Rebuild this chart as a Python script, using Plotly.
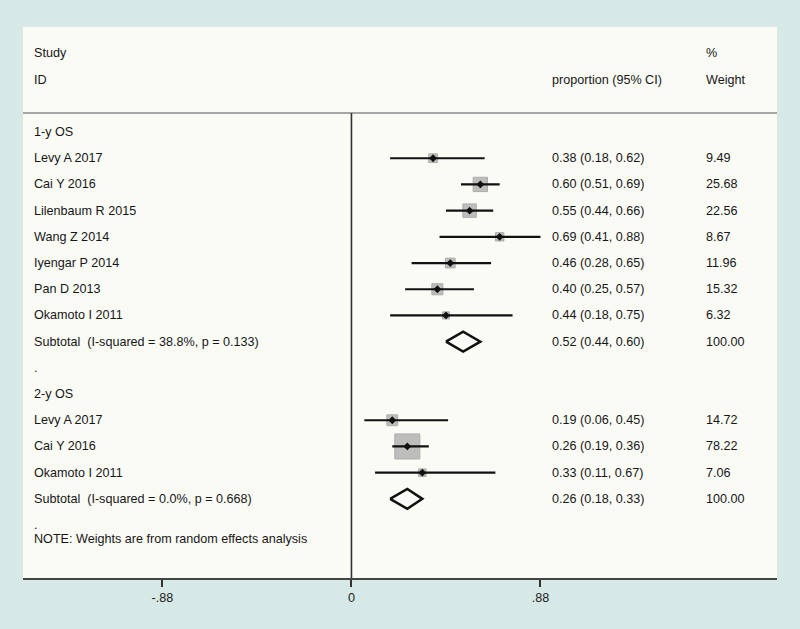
import plotly.graph_objects as go

# ---------------- data ----------------
group_labels = ["1-y OS", "2-y OS"]

studies_1y = ["Levy A 2017", "Cai Y 2016", "Lilenbaum R 2015", "Wang Z 2014",
              "Iyengar P 2014", "Pan D 2013", "Okamoto I 2011"]
es_1y = [0.38, 0.60, 0.55, 0.69, 0.46, 0.40, 0.44]
lo_1y = [0.18, 0.51, 0.44, 0.41, 0.28, 0.25, 0.18]
hi_1y = [0.62, 0.69, 0.66, 0.88, 0.65, 0.57, 0.75]
w_1y = [9.49, 25.68, 22.56, 8.67, 11.96, 15.32, 6.32]
sub_1y = [0.52, 0.44, 0.60]
het_1y = "Subtotal  (I-squared = 38.8%, p = 0.133)"

studies_2y = ["Levy A 2017", "Cai Y 2016", "Okamoto I 2011"]
es_2y = [0.19, 0.26, 0.33]
lo_2y = [0.06, 0.19, 0.11]
hi_2y = [0.45, 0.36, 0.67]
w_2y = [14.72, 78.22, 7.06]
sub_2y = [0.26, 0.18, 0.33]
het_2y = "Subtotal  (I-squared = 0.0%, p = 0.668)"

tick_vals = [-0.88, 0, 0.88]
tick_text = ["-.88", "0", ".88"]
note_text = "NOTE: Weights are from random effects analysis"

# ---------------- layout constants ----------------
FONT = dict(family="Liberation Sans, Arial, sans-serif", size=12.6, color="#161616")
X_LABEL = -1.487
X_CI = 0.924
X_W = 1.641
DIAMOND_H = 0.38

groups = [
    (group_labels[0], studies_1y, es_1y, lo_1y, hi_1y, w_1y, sub_1y, het_1y),
    (group_labels[1], studies_2y, es_2y, lo_2y, hi_2y, w_2y, sub_2y, het_2y),
]

sq_x, sq_y, sq_s = [], [], []
ln_x, ln_y = [], []
dot_x, dot_y = [], []
dm_x, dm_y = [], []
annotations = []


def txt(x, y, s):
    annotations.append(dict(x=x, y=y, xref="x", yref="y", text=s, showarrow=False,
                            xanchor="left", yanchor="middle", font=FONT))


txt(X_LABEL, -3, "Study")
txt(X_LABEL, -2, "ID")
txt(X_CI, -2, "proportion (95% CI)")
txt(X_W, -3, "%")
txt(X_W, -2, "Weight")

r = 0
for gi, (glabel, names, es, lo, hi, w, sub, het) in enumerate(groups):
    txt(X_LABEL, r, glabel)
    r += 1
    for n, e, l, h, ww in zip(names, es, lo, hi, w):
        txt(X_LABEL, r, n)
        txt(X_CI, r, f"{e:.2f} ({l:.2f}, {h:.2f})")
        txt(X_W, r, f"{ww:.2f}")
        sq_x.append(e); sq_y.append(r); sq_s.append(2.83 * ww ** 0.5)
        ln_x += [l, h, None]; ln_y += [r, r, None]
        dot_x.append(e); dot_y.append(r)
        r += 1
    txt(X_LABEL, r, het)
    txt(X_CI, r, f"{sub[0]:.2f} ({sub[1]:.2f}, {sub[2]:.2f})")
    txt(X_W, r, "100.00")
    e, l, h = sub
    dm_x += [l, e, h, e, l, None]
    dm_y += [r, r - DIAMOND_H, r, r + DIAMOND_H, r, None]
    r += 1
    txt(X_LABEL, r, ".")
    r += 1
txt(X_LABEL, r - 1 + 0.53, note_text)

fig = go.Figure()
fig.add_trace(go.Scatter(x=sq_x, y=sq_y, mode="markers",
                         marker=dict(symbol="square", size=sq_s, color="#a3a3a3",
                                     line=dict(color="#8c8c8c", width=1))))
fig.add_trace(go.Scatter(x=ln_x, y=ln_y, mode="lines",
                         line=dict(color="#111111", width=2.2)))
fig.add_trace(go.Scatter(x=dot_x, y=dot_y, mode="markers",
                         marker=dict(symbol="diamond", size=6, color="#111111")))
fig.add_trace(go.Scatter(x=dm_x, y=dm_y, mode="lines",
                         line=dict(color="#111111", width=2.5)))

Y_TOP = -4.008
Y_BOT = 17.02
HLINE = -0.725
fig.add_shape(type="line", xref="paper", yref="y", x0=0, x1=1, y0=HLINE, y1=HLINE,
              line=dict(color="#8a8a8a", width=1.5))
fig.add_shape(type="line", xref="x", yref="y", x0=0, x1=0, y0=HLINE, y1=Y_BOT,
              line=dict(color="#333333", width=1.6))

fig.update_layout(
    width=800, height=629,
    margin=dict(l=23, r=23, t=27, b=51),
    paper_bgcolor="#d6e9e7",
    plot_bgcolor="#fbfbf6",
    showlegend=False,
    hovermode=False,
    annotations=annotations,
    font=FONT,
    xaxis=dict(range=[-1.529, 1.981], tickvals=tick_vals, ticktext=tick_text,
               showgrid=False, zeroline=False, showline=True, linecolor="#444444",
               linewidth=2, ticks="outside", ticklen=7, tickwidth=1.5,
               tickcolor="#333333", tickfont=dict(size=12.6, color="#222222",
                                                  family=FONT["family"]),
               fixedrange=True),
    yaxis=dict(range=[Y_BOT, Y_TOP], visible=False, showgrid=False, zeroline=False,
               fixedrange=True),
)

fig.write_html("out.html", config={"displayModeBar": False},
               post_script="document.body.style.margin='0';document.body.style.background='#d6e9e7';")
